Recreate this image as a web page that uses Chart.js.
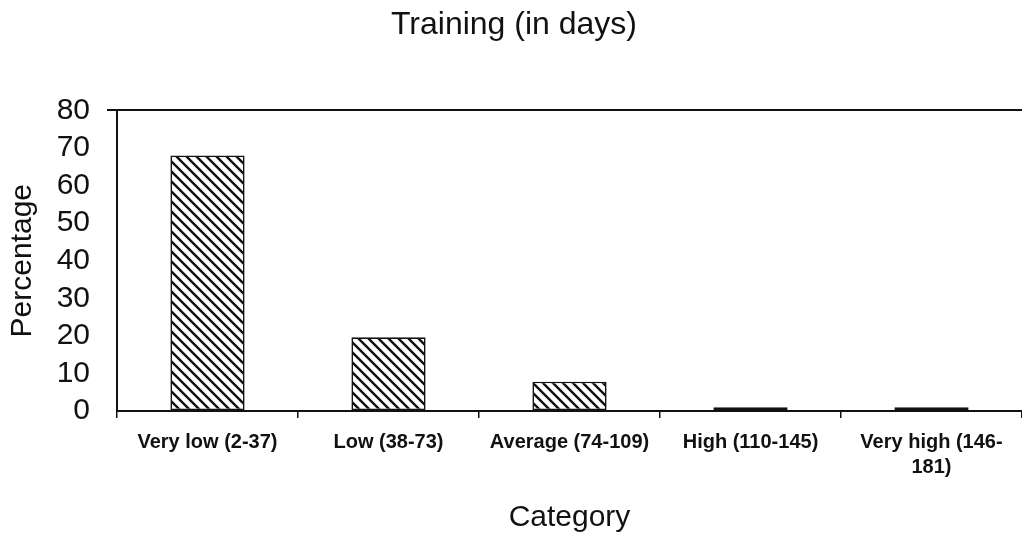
<!DOCTYPE html>
<html>
<head>
<meta charset="utf-8">
<script src="https://cdn.jsdelivr.net/npm/chart.js@4.4.1/dist/chart.umd.min.js"></script>
<style>
  html, body { margin: 0; padding: 0; background: #fff; }
  #wrap { width: 1022px; height: 542px; }
</style>
</head>
<body>
<div id="wrap"><canvas id="chart" width="1022" height="542"></canvas></div>
<script>
// --- DATA ---
const categories = [
    'Very low (2-37)',
    'Low (38-73)',
    'Average (74-109)',
    'High (110-145)',
    ['Very high (146-', '181)']
];
const percentages = [68, 19.6, 7.8, 1, 1];
const yTicks = [0, 10, 20, 30, 40, 50, 60, 70, 80];

const FONT = 'Liberation Sans, Arial, sans-serif';

// diagonal hatch (top-left to bottom-right), like the old printed chart
function makeHatch() {
    const size = 10;
    const c = document.createElement('canvas');
    c.width = size; c.height = size;
    const g = c.getContext('2d');
    g.fillStyle = '#fff';
    g.fillRect(0, 0, size, size);
    g.strokeStyle = '#111';
    g.lineWidth = 2.4;
    g.beginPath();
    g.moveTo(0, 0); g.lineTo(size, size);
    g.moveTo(-size, 0); g.lineTo(size, size * 2);
    g.moveTo(0, -size); g.lineTo(size * 2, size);
    g.stroke();
    return g.createPattern(c, 'repeat');
}

const ctx = document.getElementById('chart');
const hatch = makeHatch();

new Chart(ctx, {
    type: 'bar',
    data: {
        labels: categories,
        datasets: [{
            label: 'Percentage',
            data: percentages,
            backgroundColor: hatch,
            borderColor: '#111',
            borderWidth: 1.6,
            borderSkipped: false,
            barPercentage: 0.41,
            categoryPercentage: 1
        }]
    },
    options: {
        responsive: false,
        animation: false,
        layout: { padding: { left: 0, right: -6, top: 0, bottom: 0 } },
        plugins: {
            legend: { display: false },
            tooltip: { enabled: false },
            title: {
                display: true,
                text: 'Training (in days)',
                color: '#111',
                font: { family: FONT, size: 32, weight: 'normal' },
                padding: { top: 6, bottom: 66 }
            }
        },
        scales: {
            x: {
                offset: true,
                border: { color: '#111', width: 2 },
                grid: { offset: true, drawOnChartArea: false, color: '#111', tickLength: 7, lineWidth: 1.5 },
                ticks: {
                    color: '#111',
                    maxRotation: 0,
                    autoSkip: false,
                    padding: 12,
                    font: { family: FONT, size: 20, weight: 'bold', lineHeight: 1.25 }
                },
                title: {
                    display: true,
                    text: 'Category',
                    color: '#111',
                    font: { family: FONT, size: 30 },
                    padding: { top: 0, bottom: 6 }
                },
                afterFit: (scale) => { scale.height = 131; }
            },
            y: {
                min: 0,
                max: 80,
                border: { color: '#111', width: 2 },
                afterBuildTicks: (scale) => { scale.ticks = yTicks.map(v => ({ value: v })); },
                grid: {
                    drawOnChartArea: true,
                    tickLength: 10,
                    color: (c) => (c.tick && c.tick.value === 80) ? '#111' : 'rgba(0,0,0,0)',
                    lineWidth: 2
                },
                ticks: {
                    color: '#111',
                    autoSkip: false,
                    padding: 17,
                    font: { family: FONT, size: 30 }
                },
                title: {
                    display: true,
                    text: 'Percentage',
                    color: '#111',
                    font: { family: FONT, size: 30 },
                    padding: { top: 5, bottom: 0 }
                },
                afterFit: (scale) => { scale.width = 117; }
            }
        }
    }
});
</script>
</body>
</html>
